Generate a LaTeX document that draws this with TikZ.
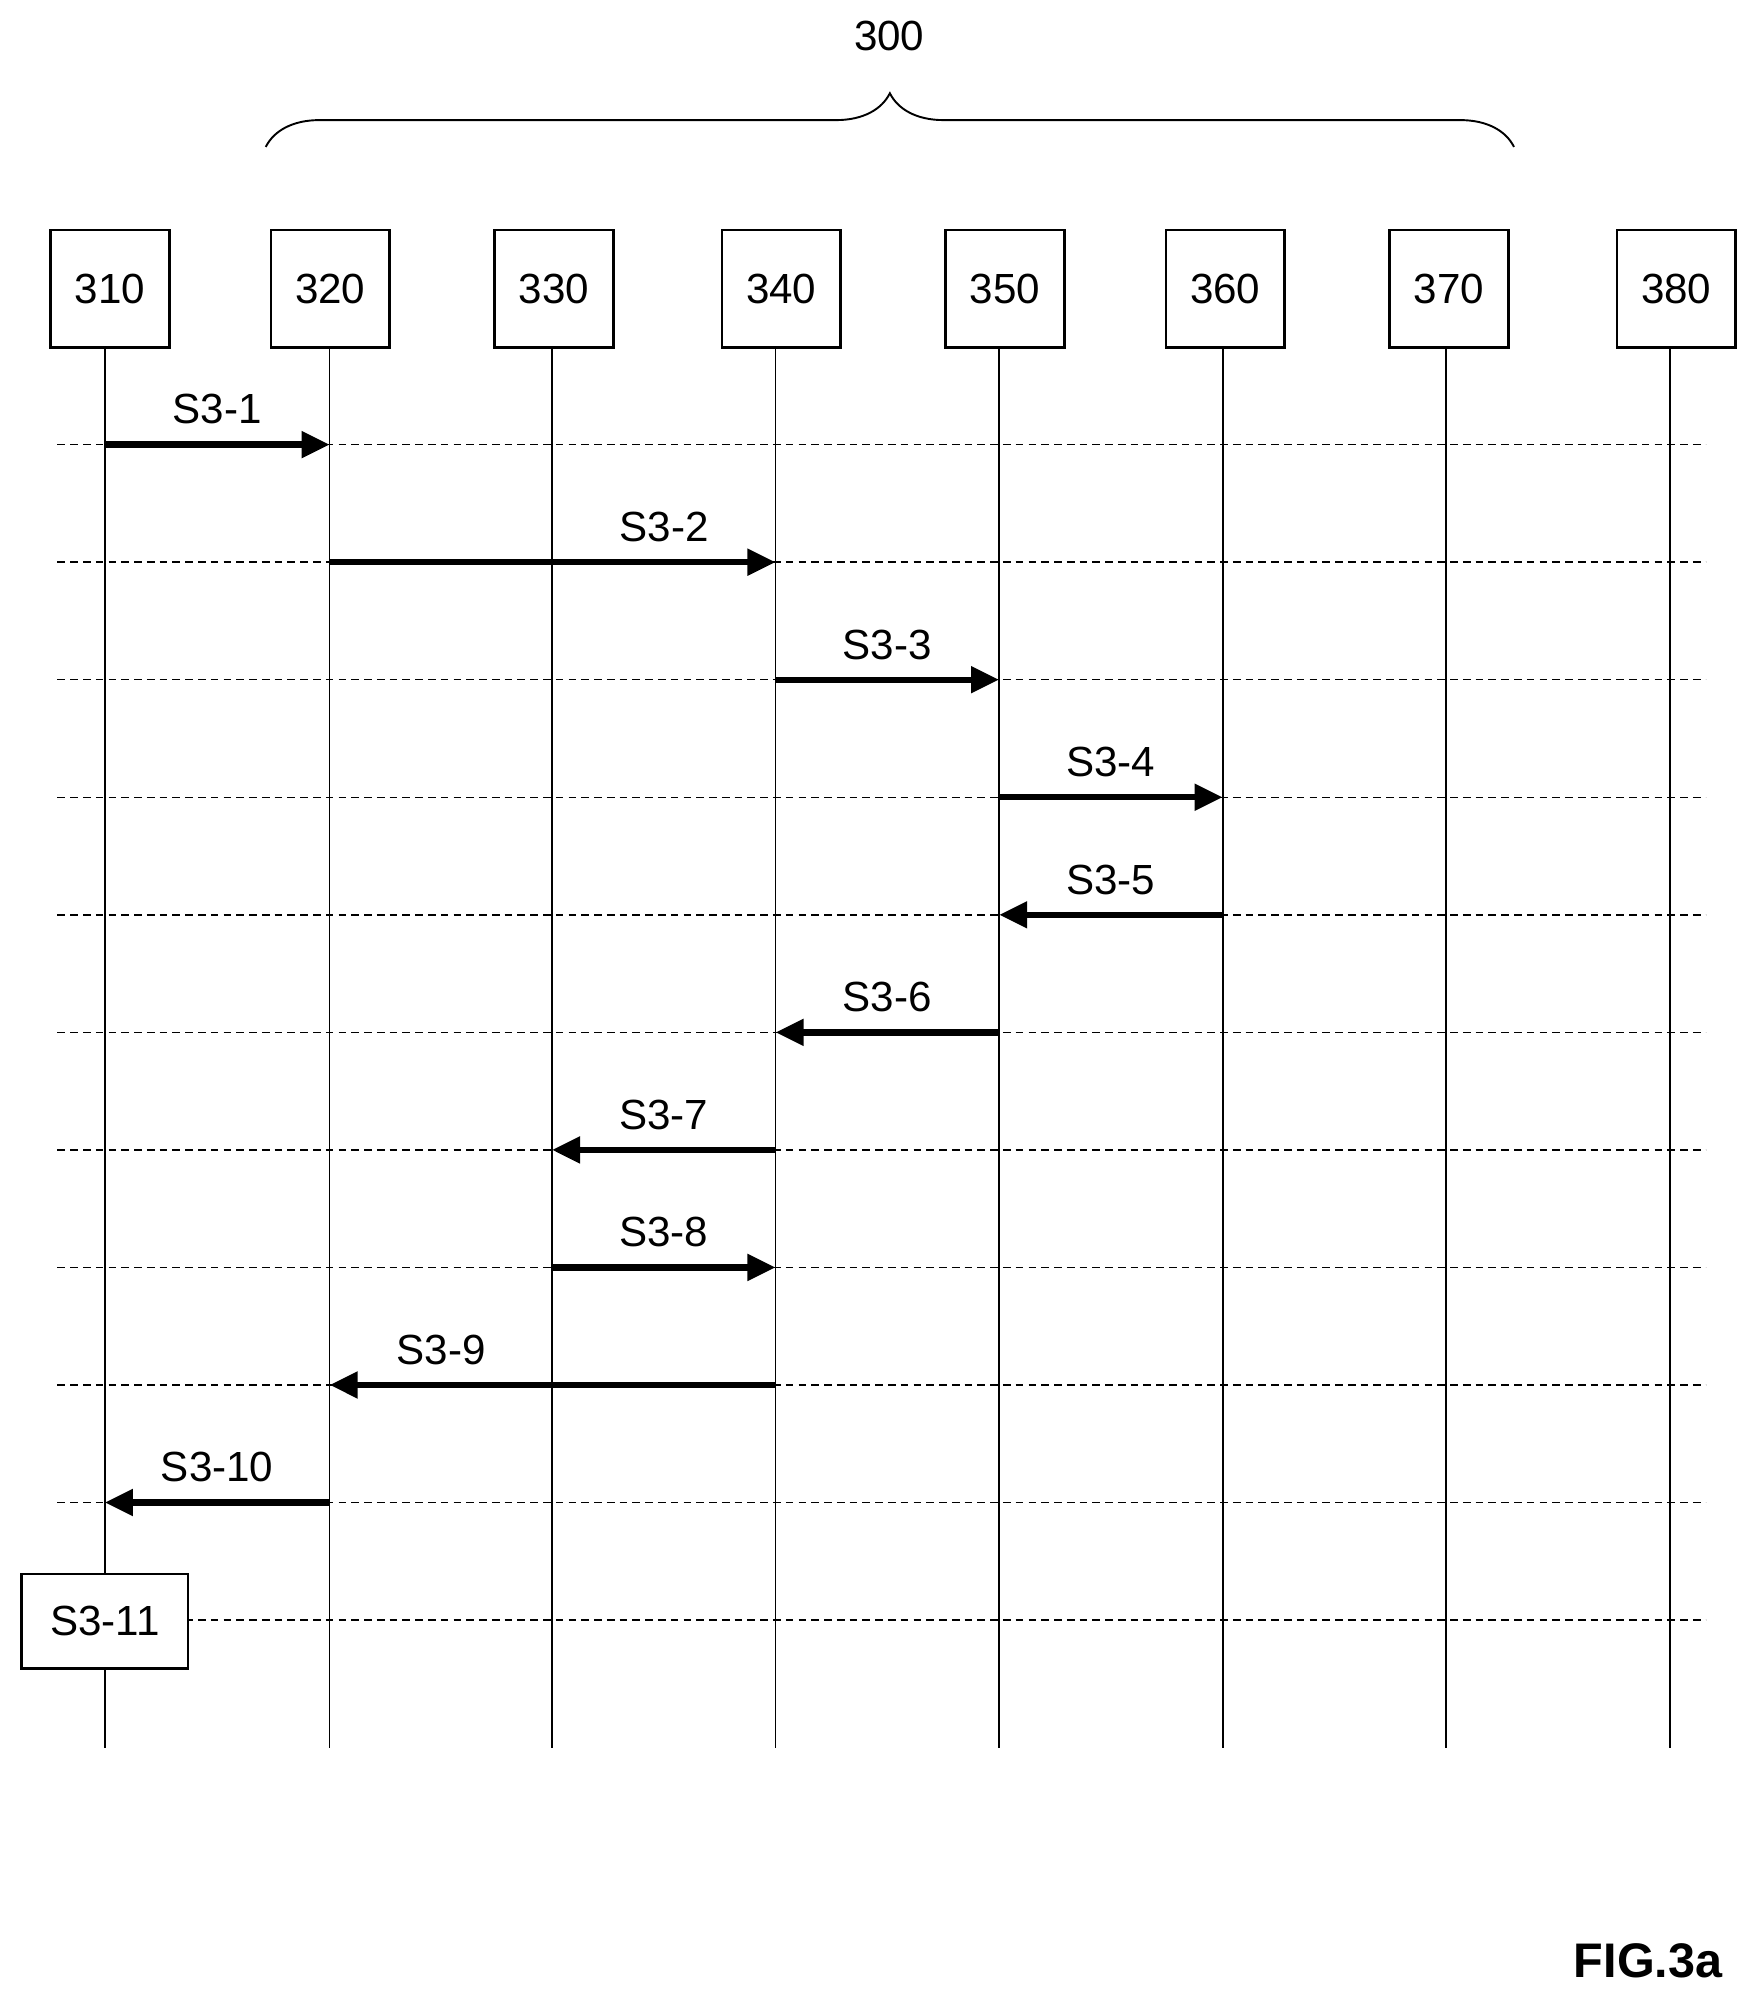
\documentclass[tikz,border=0pt]{standalone}
\usepackage{fontspec}
\setmainfont{Liberation Sans}
\usetikzlibrary{arrows.meta,decorations.pathreplacing}
\begin{document}
\begin{tikzpicture}[x=1pt,y=-1pt,
  ent/.style={draw,line width=2pt,minimum width=93pt,minimum height=92pt,inner sep=0pt,font=\fontsize{33}{38}\selectfont},
  life/.style={line width=1.3pt},
  grid/.style={dashed,dash pattern=on 6pt off 4pt,line width=1.1pt},
  msg/.style={line width=5pt,-{Triangle[length=22pt,width=20pt]}},
  lab/.style={font=\fontsize{33}{38}\selectfont}]
\useasboundingbox (0,0) rectangle (1380,1574);
\foreach \y/\n in {348/1,440/2,532/3,624/4,716/5,808/6,900/7,992/8,1084/9,1176/10,1268/11}{
  \coordinate (gl\n) at (45,\y); \coordinate (gr\n) at (1335,\y);
  \draw[grid] (gl\n) -- (gr\n);}
\foreach \n/\cx/\lx in {310/86/82,320/258.5/258,330/433.5/432,340/611.5/607,350/786.5/782,360/959/957,370/1134/1132,380/1312/1307}{
  \coordinate (t\n) at (\lx,272); \coordinate (b\n) at (\lx,1368);
  \draw[life] (t\n) -- (b\n);
  \node[ent,fill=white] (e\n) at (\cx,226) {\n};}
\foreach \n/\lx in {310/82,320/258,330/432,340/607,350/782,360/957}{
  \foreach \k/\y in {1/348,2/440,3/532,4/624,5/716,6/808,7/900,8/992,9/1084,10/1176}{
    \coordinate (p\n-\k) at (\lx,\y);}}
\draw[msg] (p310-1) -- (p320-1) node[lab,midway,above=10pt] {S3-1};
\draw[msg] (p320-2) -- (p340-2) node[lab,pos=0.75,above=10pt] {S3-2};
\draw[msg] (p340-3) -- (p350-3) node[lab,midway,above=10pt] {S3-3};
\draw[msg] (p350-4) -- (p360-4) node[lab,midway,above=10pt] {S3-4};
\draw[msg] (p360-5) -- (p350-5) node[lab,midway,above=10pt] {S3-5};
\draw[msg] (p350-6) -- (p340-6) node[lab,midway,above=10pt] {S3-6};
\draw[msg] (p340-7) -- (p330-7) node[lab,midway,above=10pt] {S3-7};
\draw[msg] (p330-8) -- (p340-8) node[lab,midway,above=10pt] {S3-8};
\draw[msg] (p340-9) -- (p320-9) node[lab,pos=0.75,above=10pt] {S3-9};
\draw[msg] (p320-10) -- (p310-10) node[lab,pos=0.5,above=10pt] {S3-10};
\node[ent,fill=white,minimum width=130pt,minimum height=74pt] (s11) at (82,1269) {S3-11};
\coordinate (bl) at (208,115); \coordinate (br) at (1185,115);
\draw[line width=1.5pt,decorate,decoration={brace,amplitude=42pt}] (bl) -- (br);
\node[lab] (n300) at (696,28) {300};
\node[font=\fontsize{38}{42}\selectfont\bfseries] (fig) at (1290,1535) {FIG.3a};
\end{tikzpicture}
\end{document}
